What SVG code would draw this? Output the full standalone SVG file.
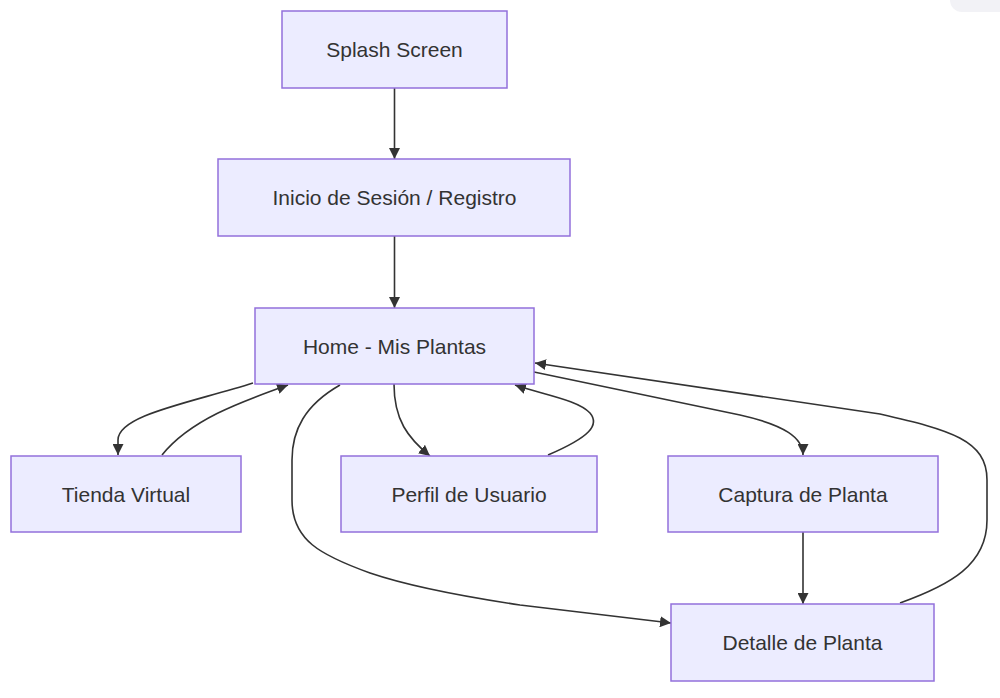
<svg xmlns="http://www.w3.org/2000/svg" width="1000" height="698" viewBox="0 0 1000 698">
<style>
.node rect{fill:#ECECFF;stroke:#9370DB;stroke-width:1.5}
.node text{font-family:"Liberation Sans",Arial,sans-serif;font-size:21px;fill:#333;text-anchor:middle;dominant-baseline:central}
.edge{fill:none;stroke:#333;stroke-width:1.6}
</style>
<defs>
<marker id="arr" viewBox="0 0 10 10" refX="10" refY="5" markerWidth="11" markerHeight="11" markerUnits="userSpaceOnUse" orient="auto">
<path d="M0,0 L10,5 L0,10 z" fill="#333"/>
</marker>
</defs>
<rect x="950" y="-12" width="70" height="24" rx="12" fill="#f2f2f6"/>
<g id="connectors">
<path class="edge" marker-end="url(#arr)" d="M394.5,88 L394.5,159"/>
<path class="edge" marker-end="url(#arr)" d="M394.5,236 L394.5,308"/>
<path class="edge" marker-end="url(#arr)" d="M253,383 C190,403 118,415 118,440 L118,455"/>
<path class="edge" marker-end="url(#arr)" d="M162,455 C190,420 240,402 288,385"/>
<path class="edge" marker-end="url(#arr)" d="M394,384 C394,420 408,438 430,456"/>
<path class="edge" marker-end="url(#arr)" d="M548,455 C590,437 600,425 590,413 C578,400 545,395 515,385"/>
<path class="edge" marker-end="url(#arr)" d="M534,372 L740,415 C785,425 803,438 803,455"/>
<path class="edge" marker-end="url(#arr)" d="M340,385 C305,405 292,430 292,460 L292,500 C292,540 320,555 370,573 C420,590 500,602 520,605 L671,623"/>
<path class="edge" marker-end="url(#arr)" d="M803,532 L803,604"/>
<path class="edge" marker-end="url(#arr)" d="M900,603 C950,585 987,565 987,520 L987,480 C987,440 950,430 880,414 L535,363"/>
</g>
<g id="splash" class="node"><rect x="282" y="11" width="225" height="77"/><text x="394.5" y="49.5">Splash Screen</text></g>
<g id="login" class="node"><rect x="218" y="159" width="352" height="77"/><text x="394.5" y="197.5">Inicio de Sesión / Registro</text></g>
<g id="home" class="node"><rect x="255" y="308" width="279" height="76"/><text x="394.5" y="346">Home - Mis Plantas</text></g>
<g id="tienda" class="node"><rect x="11" y="456" width="230" height="76"/><text x="126" y="494">Tienda Virtual</text></g>
<g id="perfil" class="node"><rect x="341" y="456" width="256" height="76"/><text x="469" y="494">Perfil de Usuario</text></g>
<g id="captura" class="node"><rect x="668" y="456" width="270" height="76"/><text x="803" y="494">Captura de Planta</text></g>
<g id="detalle" class="node"><rect x="671" y="604" width="263" height="77"/><text x="802.5" y="642.5">Detalle de Planta</text></g>
</svg>
